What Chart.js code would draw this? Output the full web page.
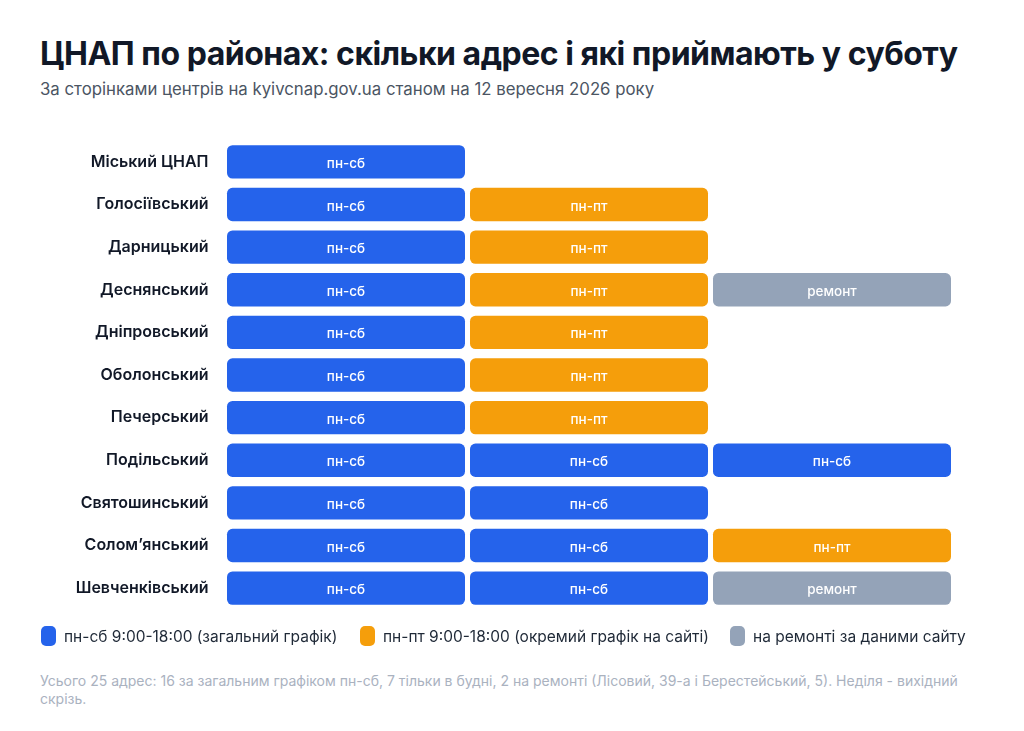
<!DOCTYPE html>
<html lang="uk">
<head>
<meta charset="utf-8">
<script src="https://cdn.jsdelivr.net/npm/chart.js@4.4.1/dist/chart.umd.min.js"></script>
<style>
  html, body { margin: 0; padding: 0; background: #fff; }
  body { width: 1024px; height: 731px; position: relative; overflow: hidden; font-family: Inter, "Noto Sans", sans-serif; }
  h1 { position: absolute; left: 40px; top: 34px; margin: 0; font-size: 32px; font-weight: 700; color: #111827; letter-spacing: -0.5px; }
  .sub { position: absolute; left: 40px; top: 79px; font-size: 16.8px; color: #4b5563; }
  #wrap { position: absolute; left: 0; top: 115px; width: 1024px; height: 520px; }
  #legend { position: absolute; left: 41px; top: 626px; font-size: 15.5px; color: #1f2937; }
  .item { position: absolute; top: 0; white-space: nowrap; display: flex; align-items: center; height: 20px; }
  .item i { display: inline-block; width: 15px; height: 20px; border-radius: 5px; margin-right: 8px; }
  .note { position: absolute; left: 40px; top: 672px; width: 940px; font-size: 14px; line-height: 18px; color: #aab2bf; }
</style>
</head>
<body>
<h1>ЦНАП по районах: скільки адрес і які приймають у суботу</h1>
<div class="sub">За сторінками центрів на kyivcnap.gov.ua станом на 12 вересня 2026 року</div>
<div id="wrap"><canvas id="grid"></canvas></div>
<div id="legend"></div>
<div class="note">Усього 25 адрес: 16 за загальним графіком пн-сб, 7 тільки в будні, 2 на ремонті (Лісовий, 39-а і Берестейський, 5). Неділя - вихідний скрізь.</div>
<script>
// Districts and the schedule of each address (1st, 2nd, 3rd address per district)
var districts = ['Міський ЦНАП', 'Голосіївський', 'Дарницький', 'Деснянський', 'Дніпровський',
  'Оболонський', 'Печерський', 'Подільський', 'Святошинський', 'Солом’янський', 'Шевченківський'];
var slot1 = ['sat', 'sat', 'sat', 'sat', 'sat', 'sat', 'sat', 'sat', 'sat', 'sat', 'sat'];
var slot2 = [null, 'week', 'week', 'week', 'week', 'week', 'week', 'sat', 'sat', 'sat', 'sat'];
var slot3 = [null, null, null, 'repair', null, null, null, 'sat', null, 'week', 'repair'];

var statusKeys = ['sat', 'week', 'repair'];
var cellText = { sat: 'пн-сб', week: 'пн-пт', repair: 'ремонт' };
var legendText = { sat: 'пн-сб 9:00-18:00 (загальний графік)', week: 'пн-пт 9:00-18:00 (окремий графік на сайті)', repair: 'на ремонті за даними сайту' };
var colors = { sat: '#2563eb', week: '#f59e0b', repair: '#94a3b8' };

var slots = [slot1, slot2, slot3];
var datasets = slots.map(function (slot, k) {
  return {
    label: 'Адреса ' + (k + 1),
    data: slot.map(function (s) { return s ? 1 : null; }),
    statuses: slot,
    backgroundColor: slot.map(function (s) { return s ? colors[s] : 'transparent'; }),
    borderColor: '#ffffff',
    borderWidth: 2.5,
    borderSkipped: false,
    borderRadius: { topLeft: 8, topRight: 8, bottomLeft: 8, bottomRight: 8 },
    barPercentage: 0.9,
    categoryPercentage: 1
  };
});

// write schedule text in the middle of every cell
var cellLabels = {
  id: 'cellLabels',
  afterDatasetsDraw: function (chart) {
    var ctx = chart.ctx;
    ctx.save();
    ctx.fillStyle = '#ffffff';
    ctx.font = '500 13.5px Inter, sans-serif';
    ctx.textAlign = 'center';
    ctx.textBaseline = 'middle';
    chart.data.datasets.forEach(function (ds, i) {
      chart.getDatasetMeta(i).data.forEach(function (bar, j) {
        var s = ds.statuses[j];
        if (!s) return;
        var c = bar.getCenterPoint();
        ctx.fillText(cellText[s], c.x, c.y + 2);
      });
    });
    ctx.restore();
  }
};

new Chart(document.getElementById('grid'), {
  type: 'bar',
  data: { labels: districts, datasets: datasets },
  plugins: [cellLabels],
  options: {
    indexAxis: 'y',
    responsive: true,
    maintainAspectRatio: false,
    animation: false,
    layout: { padding: { top: 14.6, bottom: 11.3, right: 70.5, left: 0 } },
    plugins: { legend: { display: false }, tooltip: { enabled: false } },
    scales: {
      x: { stacked: true, min: 0, max: 3, display: false },
      y: {
        stacked: true,
        grid: { display: false, drawTicks: false },
        border: { display: false },
        afterFit: function (scale) { scale.width = 224.5; },
        ticks: { padding: 16, color: '#111827', font: { family: 'Inter', size: 16, weight: '600' } }
      }
    }
  }
});

// legend
var legend = document.getElementById('legend');
var legendX = [0, 319, 689];
statusKeys.forEach(function (k, i) {
  var d = document.createElement('div');
  d.className = 'item';
  d.style.left = legendX[i] + 'px';
  d.innerHTML = '<i style="background:' + colors[k] + '"></i>' + legendText[k];
  legend.appendChild(d);
});
</script>
</body>
</html>
